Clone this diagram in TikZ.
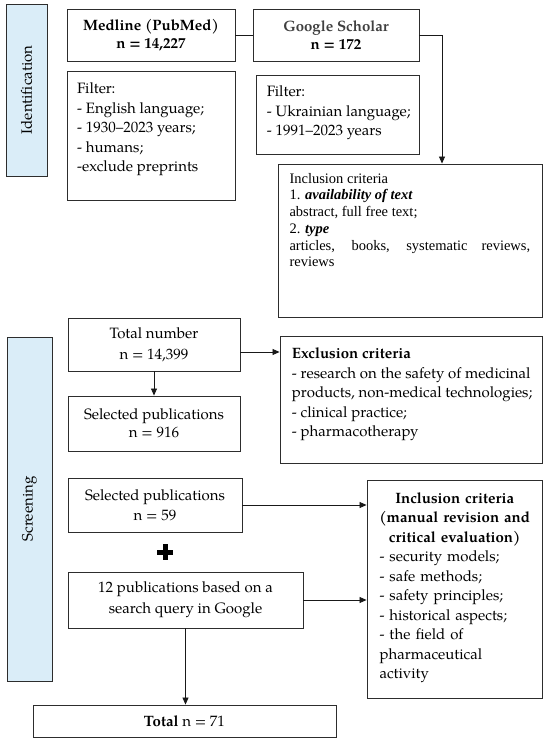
\documentclass[tikz,border=0pt]{standalone}
\usepackage{fontspec}
\setmainfont{texgyrepagella}[Extension=.otf,UprightFont=*-regular,BoldFont=*-bold,ItalicFont=*-italic,BoldItalicFont=*-bolditalic]
\newfontfamily\timesf{Liberation Serif}
\usetikzlibrary{arrows.meta}
\hyphenpenalty=10000
\exhyphenpenalty=10000
\setlength\parindent{0pt}
\definecolor{sideblue}{RGB}{218,237,248}
\definecolor{boxline}{RGB}{45,45,45}
\begin{document}
\begin{tikzpicture}[x=1pt,y=-1pt,
  box/.style={draw=boxline, line width=0.9pt, inner sep=0pt, rectangle},
  side/.style={box, fill=sideblue},
  txt/.style={inner sep=0pt, align=left, anchor=north west, font=\fontsize{15}{19.5}\selectfont},
  ctr/.style={align=center, font=\fontsize{15}{19.5}\selectfont},
  arr/.style={draw=black!90, line width=0.8pt, -{Triangle[length=7pt,width=6pt]}},
  conn/.style={draw=black!90, line width=0.8pt},
]
\useasboundingbox[fill=white] (0,0) rectangle (550,743);

% side labels
\node[side, rotate=90, minimum width=172pt, minimum height=41pt, font=\fontsize{15}{19.5}\selectfont] (idside) at (26.5,90) {Identification};
\node[side, rotate=90, minimum width=344pt, minimum height=45pt, font=\fontsize{15}{19.5}\selectfont] (scrside) at (29.5,509) {Screening};

% identification
\node[box, ctr, minimum width=168pt, minimum height=52pt, font=\fontsize{15}{17.6}\selectfont] (medline) at (151,35) {\textbf{Medline (PubMed)}\\\textbf{n = 14,227}};
\node[box, minimum width=168pt, minimum height=129pt] (mfilter) at (151,135.5) {};
\node[txt] (mfiltertext) at (77,82.5) {Filter:\\- English language;\\- 1930–2023 years;\\- humans;\\-exclude preprints};

\node[box, ctr, minimum width=166pt, minimum height=52pt, font=\fontsize{15}{17.6}\selectfont] (scholar) at (336,35) {\textbf{\color{black!75}Google Scholar}\\\textbf{n = 172}};
\node[box, minimum width=163pt, minimum height=79pt] (sfilter) at (337.5,114.5) {};
\node[txt] (sfiltertext) at (266.7,85.5) {Filter:\\- Ukrainian language;\\- 1991–2023 years};

\node[box, minimum width=264pt, minimum height=153pt] (incl1) at (410,240.5) {};
\node[inner sep=0pt, anchor=north west, text width=240.7pt, align=justify, font=\timesf\fontsize{14.5}{16.7}\selectfont] (incl1text) at (289.3,173) {Inclusion criteria\par 1. \textbf{\textit{availability of text}}\par abstract, full free text;\par 2. \textbf{\textit{type}}\par articles, books, systematic reviews, reviews};

% screening
\node[box, ctr, minimum width=172pt, minimum height=53pt, font=\fontsize{15}{21}\selectfont] (totalnum) at (154,344.5) {Total number\\n = 14,399};
\node[box, ctr, minimum width=172pt, minimum height=55pt, font=\fontsize{15}{18.3}\selectfont] (sel916) at (154,423.5) {Selected publications\\n = 916};
\node[box, minimum width=262pt, minimum height=127pt] (excl) at (411,399.5) {};
\node[txt] (excltext) at (291.7,347.5) {\textbf{Exclusion criteria}\\- research on the safety of medicinal\\products, non-medical technologies;\\- clinical practice;\\- pharmacotherapy};

\node[box, ctr, minimum width=174pt, minimum height=54pt, font=\fontsize{15}{20}\selectfont] (sel59) at (155,505) {Selected publications\\n = 59};
\node[box, ctr, minimum width=235pt, minimum height=56pt, font=\fontsize{15}{21}\selectfont] (pubs12) at (185.5,600) {12 publications based on a\\search query in Google};
\node[box, minimum width=175pt, minimum height=218pt] (incl2) at (454.5,589) {};
\node[txt, text width=150.4pt] (incl2text) at (379.3,492) {\makebox[150.4pt]{\bfseries Inclusion criteria}\\\makebox[150.4pt]{\bfseries (manual revision and}\\\makebox[150.4pt]{\bfseries critical evaluation)}\\- security models;\\- safe methods;\\- safety principles;\\- historical aspects;\\- the field of\\pharmaceutical\\activity};

\node[box, ctr, minimum width=303pt, minimum height=32pt] (total) at (184.5,721) {\textbf{Total} n = 71};

% plus sign
\fill (157,549.5) rectangle (173,554.5);
\fill (162.5,544) rectangle (167.5,560);

% connectors
\draw[conn] (medline.east) -- (scholar.west);
\draw[arr] (scholar.east) -| ([xshift=32pt]incl1.north);
\draw[arr] (totalnum.south) -- (sel916.north);
\path ([yshift=-7.5pt]totalnum.east) coordinate (t1);
\draw[arr] (t1) -- (t1 -| excl.west);
\draw[arr] (sel59.east) -- (sel59.east -| incl2.west);
\draw[arr] (pubs12.east) -- (pubs12.east -| incl2.west);
\draw[arr] (pubs12.south) -- (pubs12.south |- total.north);
\end{tikzpicture}
\end{document}
